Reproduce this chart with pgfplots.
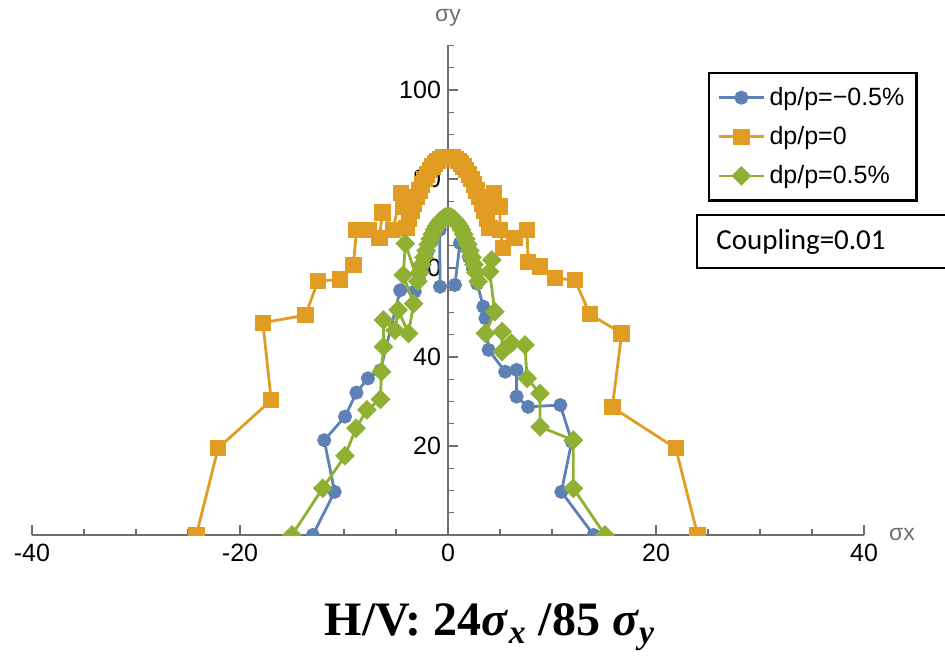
\documentclass[border=0pt]{standalone}
\usepackage{pgfplots}
\pgfplotsset{compat=1.18}
\usepackage{fontspec}
\setmainfont{Liberation Sans}
\newfontfamily\titlefont{Liberation Serif}
\newfontfamily\carlito{Carlito}
\definecolor{mblue}{HTML}{5E81B5}
\definecolor{morange}{HTML}{E19C24}
\definecolor{mgreen}{HTML}{8FB032}
\definecolor{axgray}{HTML}{6E6E6E}
\begin{document}
\begin{tikzpicture}
\begin{axis}[
  at={(0,0)}, anchor=origin,
  x=5.2pt, y=2.225pt,
  xmin=-40, xmax=40, ymin=0, ymax=110,
  axis lines=middle,
  axis line style={-, draw=axgray, line width=0.6pt},
  tick style={draw=axgray, line width=0.6pt},
  tick align=inside,
  major tick length=5pt, minor tick length=3pt,
  hide obscured x ticks=false,
  hide obscured y ticks=false,
  clip marker paths=true,
  xtick={-40,-20,0,20,40},
  minor xtick={-35,-30,-25,-15,-10,-5,5,10,15,25,30,35},
  ytick={20,40,60,80,100},
  minor ytick={5,10,15,25,30,35,45,50,55,65,70,75,85,90,95,105,110},
  /pgf/number format/assume math mode=true,
  ticklabel style={font=\fontsize{12.5}{14}\selectfont, text=black},
  xticklabel style={yshift=-1pt},
  xlabel={σx}, ylabel={σy},
  xlabel style={at={(axis description cs:1,0)}, anchor=west, xshift=9pt, text=axgray, font=\fontsize{11.5}{13}\selectfont},
  ylabel style={at={(axis description cs:0.5,1)}, anchor=south, yshift=6pt, text=axgray, font=\fontsize{11.5}{13}\selectfont},
  legend style={at={(rel axis cs:0.8125,0.946)}, anchor=north west, draw=black, line width=1.2pt,
    font=\fontsize{12.5}{14}\selectfont, inner xsep=4pt, inner ysep=5pt, row sep=5pt,
    legend image code/.code={\draw[mark repeat=2,mark phase=2] plot coordinates {(0cm,0cm) (0.4cm,0cm) (0.8cm,0cm)};}},
  legend cell align=left,
]
\addplot[color=mblue, line width=1.4pt, mark=*, mark size=2.8pt, mark options={solid, fill=mblue}] coordinates {
(-13.0,0) (-10.9,9.7) (-11.9,21.3) (-9.9,26.6) (-8.8,32.0) (-7.7,35.2) (-6.5,37.0) (-4.6,55.0) (-3.2,54.7)
(-2.8,57.5) (-2.4,60.6) (-2.0,63.5) (-1.6,65.9) (-1.2,67.8) (-0.8,68.6) (-0.77,55.8) (0.67,56.2) (1.15,65.6)
(1.6,64.8) (2.0,62.5) (2.4,59.8) (2.8,56.5) (3.4,51.3) (3.6,48.7) (3.9,41.6) (5.5,36.7) (6.6,37.1) (6.6,31.1)
(7.7,28.8) (10.8,29.2) (11.9,21.0) (10.9,9.7) (14.0,0)
};
\addlegendentry{dp/p=−0.5\%}
\addplot[color=morange, line width=1.4pt, mark=square*, mark size=3.4pt, mark options={solid, fill=morange}] coordinates {
(-24.2,0) (-22.1,19.5) (-17.0,30.3) (-17.8,47.7) (-13.7,49.4) (-12.5,57.1) (-10.4,57.4) (-9.1,60.7) (-8.8,68.5)
(-7.6,68.5) (-6.6,66.7) (-6.3,72.5) (-5.3,68.5) (-4.5,76.8) (-4.3,73.8) (-4.0,69.0) (-3.75,71.0) (-3.5,72.8)
(-3.25,74.4) (-3.0,76.0) (-2.75,77.4) (-2.5,78.8) (-2.25,80.0) (-2.0,81.0) (-1.75,82.0) (-1.5,82.8) (-1.25,83.5)
(-1.0,84.0) (-0.75,84.5) (-0.5,84.8) (-0.25,85.0) (0,85.0) (0.25,85.0) (0.5,84.8) (0.75,84.5) (1.0,84.0)
(1.25,83.5) (1.5,82.8) (1.75,82.0) (2.0,81.0) (2.25,80.0) (2.5,78.8) (2.75,77.4) (3.0,76.0) (3.25,74.4)
(3.5,72.8) (3.75,71.0) (4.0,69.0) (4.3,73.8) (4.45,76.8) (5.0,73.8) (5.0,68.5) (5.3,64.5) (6.4,66.7) (7.6,68.5)
(7.7,61.4) (8.85,60.3) (10.3,57.7) (12.2,57.3) (13.65,49.6) (16.7,45.3) (15.8,28.7) (21.9,19.5) (24.0,0)
};
\addlegendentry{dp/p=0}
\addplot[color=mgreen, line width=1.4pt, mark=square*, mark size=2.8pt, mark options={solid, fill=mgreen, rotate=45}] coordinates {
(-15.0,0) (-12.05,10.5) (-9.9,17.8) (-8.85,24.0) (-7.8,28.1) (-6.5,30.5) (-6.4,36.7) (-6.2,42.3) (-6.2,48.3)
(-5.1,46.0) (-4.8,50.6) (-3.8,45.3) (-3.3,52.0) (-4.3,58.4) (-4.1,65.5) (-2.9,57.0) (-2.7,59.0) (-2.5,60.8)
(-2.3,62.4) (-2.1,63.9) (-1.9,65.3) (-1.7,66.5) (-1.5,67.6) (-1.3,68.6) (-1.1,69.4) (-0.9,70.1) (-0.7,70.7)
(-0.5,71.1) (-0.3,71.4) (-0.1,71.5) (0.1,71.5) (0.3,71.4) (0.5,71.1) (0.7,70.7) (0.9,70.1) (1.1,69.4)
(1.3,68.6) (1.5,67.6) (1.7,66.5) (1.9,65.3) (2.1,63.9) (2.3,62.4) (2.5,60.8) (2.7,59.0) (2.9,57.0)
(4.2,61.8) (4.0,59.2) (4.5,50.2) (3.6,45.3) (5.2,45.7) (5.2,41.2) (6.1,43.1) (7.4,42.7) (7.6,35.2)
(8.85,31.8) (8.85,24.3) (12.05,21.3) (12.05,10.5) (15.1,0)
};
\addlegendentry{dp/p=0.5\%}
\end{axis}
\draw[line width=0.8pt] (124.5pt,160pt) rectangle (262pt,133.5pt);
\node[anchor=west, font=\carlito\fontsize{14.5}{16}\selectfont, inner sep=0pt] at (134pt,146.5pt) {Coupling=0.01};
\node[font=\titlefont\bfseries\fontsize{24}{28}\selectfont] at (21pt,-46pt) {H/V: 24\textit{σ}\textsubscript{\textit{x}} /85 \textit{σ}\textsubscript{\textit{y}}};
\pgfresetboundingbox
\useasboundingbox (-224pt,-61pt) rectangle (248.5pt,267.5pt);
\end{tikzpicture}
\end{document}
